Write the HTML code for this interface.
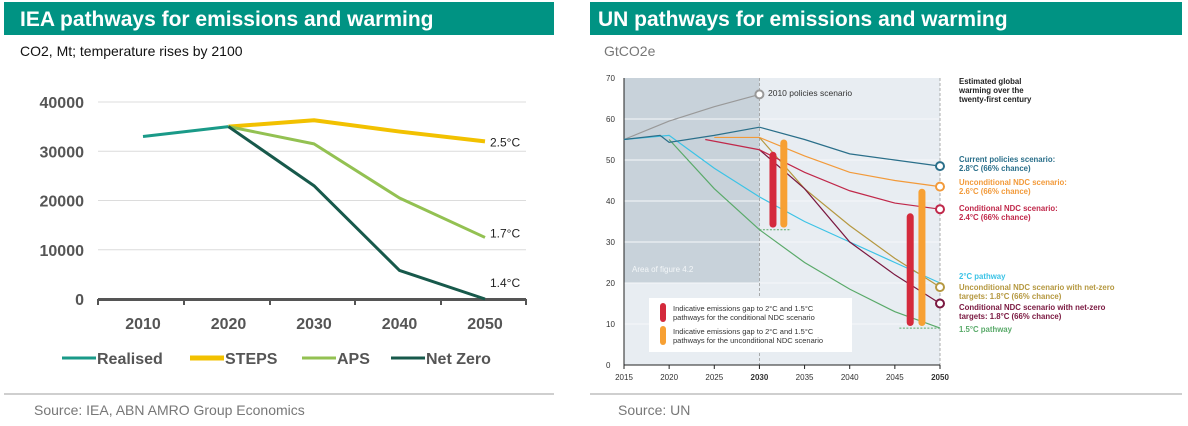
<!DOCTYPE html>
<html><head><meta charset="utf-8"><style>
body{margin:0;width:1188px;height:426px;background:#fff;overflow:hidden;font-family:"Liberation Sans",Arial,sans-serif;position:relative}
.ban{position:absolute;top:2px;height:33px;background:#009383;color:#fff;font-weight:bold;font-size:21px;line-height:35px;padding-left:16px;box-sizing:border-box}
.sub{position:absolute;top:43px;font-size:14px;color:#111}
.sep{position:absolute;top:393px;height:2px;background:#cfcfcf}
.src{position:absolute;top:402px;font-size:14px;color:#777}
svg{position:absolute;left:0;top:0}
</style></head><body>
<div class="ban" style="left:4px;width:550px">IEA pathways for emissions and warming</div>
<div class="sub" style="left:20px">CO2, Mt; temperature rises by 2100</div>
<div class="ban" style="left:590px;width:592px;padding-left:8px">UN pathways for emissions and warming</div>
<div class="sub" style="left:604px;color:#777">GtCO2e</div>
<div class="sep" style="left:4px;width:550px"></div>
<div class="sep" style="left:590px;width:592px"></div>
<div class="src" style="left:34px">Source: IEA, ABN AMRO Group Economics</div>
<div class="src" style="left:618px">Source: UN</div>
<svg id="s" width="1188" height="426"></svg>
<script>
// IEA chart data
const ieaYears=[2010,2020,2030,2040,2050];
const ieaTicks=[0,10000,20000,30000,40000];
const realisedYears=[2010,2020];
const realised=[33000,35000];
const stepsYears=[2020,2030,2040,2050];
const steps=[35000,36300,34000,32000];
const apsYears=[2020,2030,2040,2050];
const aps=[35000,31500,20500,12500];
const nzYears=[2020,2030,2040,2050];
const netZero=[35000,23000,5800,0];
const ieaEndLabels=["2.5°C","1.7°C","1.4°C"];
// UN chart data
const unXTicks=[2015,2020,2025,2030,2035,2040,2045,2050];
const unYTicks=[0,10,20,30,40,50,60,70];
const pol2010Years=[2015,2020,2025,2030];const pol2010=[55,59.5,63,66];
const curYears=[2015,2019,2020,2025,2030,2035,2040,2045,2050];const curPol=[55,56,54.3,56,58,55,51.5,50,48.5];
const uncYears=[2025,2030,2035,2040,2045,2050];const uncNdc=[55.5,55.5,51,47,45,43.5];
const conYears=[2024,2030,2035,2040,2045,2050];const conNdc=[55,52.5,47,42.5,39.5,38];
const twoYears=[2015,2020,2025,2030,2035,2040,2045,2050];const twoC=[55,56,48,41,35,30,25,20];
const oneYears=[2020,2025,2030,2035,2040,2045,2050];const oneFive=[55,43,33,25,18.5,13,9];
const uncNzYears=[2030,2035,2040,2045,2050];const uncNz=[55.5,43,34,26,19];
const conNzYears=[2030,2035,2040,2045,2050];const conNz=[52.5,43,30,22,15];
const gapYears=[2031.5,2032.7,2046.7,2048];const gapLow=[33.5,33.5,9.5,9.5];const gapHigh=[52,55,37,43];
const gapKinds=["con","unc","con","unc"];

const S=document.getElementById('s');const NS='http://www.w3.org/2000/svg';
function mk(t,a,txt){const e=document.createElementNS(NS,t);for(const k in a)e.setAttribute(k,a[k]);if(txt!=null)e.textContent=txt;S.appendChild(e);return e;}
// IEA axes
const ix=y=>143+(y-2010)*(485-143)/40, iy=v=>299-v*(299-102)/40000;
ieaTicks.forEach(t=>{if(t>0){const g=mk('line',{x1:98,x2:526,y1:iy(t),y2:iy(t),stroke:'#dcdcdc','stroke-width':1});}
const l=mk('text',{x:84,y:iy(t)+6,'text-anchor':'end','font-size':16,'font-weight':'bold',fill:'#555'},t);});
const ax=mk('line',{x1:98,x2:526,y1:299.5,y2:299.5,stroke:'#555','stroke-width':3});
[98,184,270,355,441,526].forEach(x=>{const t=mk('line',{x1:x,x2:x,y1:299,y2:305,stroke:'#555','stroke-width':2});});
ieaYears.forEach(y=>{const l=mk('text',{x:ix(y),y:329,'text-anchor':'middle','font-size':16,'font-weight':'bold',fill:'#555'},y);});
function ieaLine(xs,vs,c,w,n){const p=mk('polyline',{points:xs.map((y,i)=>ix(y)+','+iy(vs[i])).join(' '),fill:'none',stroke:c,'stroke-width':w,'stroke-linejoin':'round'});}
ieaLine(realisedYears,realised,'#1a9a88',3,'realised-line');
ieaLine(stepsYears,steps,'#f2c100',4,'steps-line');
ieaLine(apsYears,aps,'#93c152',3,'aps-line');
ieaLine(nzYears,netZero,'#17594b',3,'net-zero-line');
[steps,aps,netZero].forEach((s,i)=>{const y=i==2?iy(s[3])-12:iy(s[3])+(i==0?5:0);const l=mk('text',{x:490,y:y,'font-size':12,fill:'#222'},ieaEndLabels[i]);});
[['Realised','#1a9a88',62,3],['STEPS','#f2c100',190,5],['APS','#93c152',302,3],['Net Zero','#17594b',391,3]].forEach(d=>{
const ln=mk('line',{x1:d[2],x2:d[2]+34,y1:358,y2:358,stroke:d[1],'stroke-width':d[3]});
const t=mk('text',{x:d[2]+35,y:364,'font-size':16,'font-weight':'bold',fill:'#555'},d[0]);});
// UN chart
const ux=y=>624+(y-2015)*(940-624)/35, uy=v=>365-v*(365-78)/70;
const bg=mk('rect',{x:624,y:78,width:316,height:287,fill:'#e8edf2'});
const sh=mk('rect',{x:624,y:78,width:ux(2030)-624,height:uy(20)-78,fill:'#c8d2da'});
const at=mk('text',{x:632,y:272,'font-size':8,fill:'#f3f6f8'},'Area of figure 4.2');
unYTicks.forEach(t=>{if(t>0&&t<70){const g=mk('line',{x1:624,x2:940,y1:uy(t),y2:uy(t),stroke:'#f6f8fa','stroke-width':1});}
const l=mk('text',{x:606,y:uy(t)+3,'font-size':8,fill:'#333'},t);});
[2030,2050].forEach(y=>{const d=mk('line',{x1:ux(y),x2:ux(y),y1:78,y2:365,stroke:'#999','stroke-width':0.8,'stroke-dasharray':'3,2'});});
mk('line',{x1:624,x2:624,y1:78,y2:365,stroke:'#222','stroke-width':1});
mk('line',{x1:624,x2:940,y1:365,y2:365,stroke:'#222','stroke-width':1});
unXTicks.forEach(y=>{mk('line',{x1:ux(y),x2:ux(y),y1:365,y2:369,stroke:'#222'});
const l=mk('text',{x:ux(y),y:380,'text-anchor':'middle','font-size':8,'font-weight':(y==2030||y==2050)?'bold':'normal',fill:'#333'},y);});
function unLine(xs,vs,c,n){const p=mk('polyline',{points:xs.map((y,i)=>ux(y)+','+uy(vs[i])).join(' '),fill:'none',stroke:c,'stroke-width':1.2});}
unLine(pol2010Years,pol2010,'#999','policies-2010-line');
unLine(oneYears,oneFive,'#5aaa6a','pathway-1-5c-line');
unLine(twoYears,twoC,'#3cc3e6','pathway-2c-line');
unLine(uncNzYears,uncNz,'#b59840','unc-ndc-netzero-line');
unLine(conNzYears,conNz,'#7a1840','con-ndc-netzero-line');
unLine(conYears,conNdc,'#c0284a','con-ndc-line');
unLine(uncYears,uncNdc,'#f29a3a','unc-ndc-line');
unLine(curYears,curPol,'#2a6f8a','current-policies-line');
gapYears.forEach((y,i)=>{const b=mk('rect',{x:ux(y)-3.5,y:uy(gapHigh[i]),width:7,height:uy(gapLow[i])-uy(gapHigh[i]),rx:3.5,fill:gapKinds[i]=='con'?'#d42a3c':'#f7a033'});});
[[2030,2033.5,33],[2045.5,2050,9]].forEach(d=>{mk('line',{x1:ux(d[0]),x2:ux(d[1]),y1:uy(d[2]),y2:uy(d[2]),stroke:'#5aaa6a','stroke-dasharray':'2,1.5'});});
[[2050,48.5,'#2a6f8a'],[2050,43.5,'#f29a3a'],[2050,38,'#c0284a'],[2050,19,'#b59840'],[2050,15,'#7a1840'],[2030,66,'#999']].forEach(d=>{const c=mk('circle',{cx:ux(d[0]),cy:uy(d[1]),r:4,fill:'#fff',stroke:d[2],'stroke-width':2});});
mk('text',{x:768,y:96,'font-size':8.5,fill:'#333'},'2010 policies scenario');
const lb=mk('rect',{x:649,y:298,width:203,height:54,fill:'#fff'});
[['#d42a3c',308,'conditional'],['#f7a033',331,'unconditional']].forEach(d=>{mk('rect',{x:660,y:d[1]-5,width:6,height:19,rx:3,fill:d[0]});
const t=mk('text',{x:673,y:d[1]+3,'font-size':7.5,fill:'#333'},'Indicative emissions gap to 2°C and 1.5°C');
mk('text',{x:673,y:d[1]+12,'font-size':7.5,fill:'#333'},'pathways for the '+d[2]+' NDC scenario');});
const rl=[['Estimated global',84,'#222'],['warming over the',93,'#222'],['twenty-first century',102,'#222'],
['Current policies scenario:',162,'#2a6f8a'],['2.8°C (66% chance)',171,'#2a6f8a'],
['Unconditional NDC scenario:',185,'#f29a3a'],['2.6°C (66% chance)',194,'#f29a3a'],
['Conditional NDC scenario:',211,'#c0284a'],['2.4°C (66% chance)',220,'#c0284a'],
['2°C pathway',279,'#3cc3e6'],['Unconditional NDC scenario with net-zero',290,'#b59840'],['targets: 1.8°C (66% chance)',299,'#b59840'],
['Conditional NDC scenario with net-zero',310,'#7a1840'],['targets: 1.8°C (66% chance)',319,'#7a1840'],['1.5°C pathway',332,'#5aaa6a']];
rl.forEach(d=>{const t=mk('text',{x:959,y:d[1],'font-size':7.8,'font-weight':'bold',fill:d[2]},d[0]);});
</script>
</body></html>
